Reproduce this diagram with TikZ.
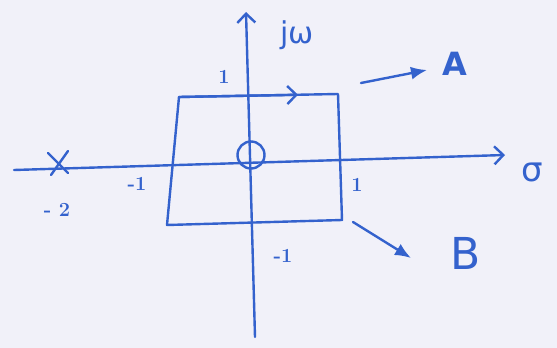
\documentclass[tikz,border=0pt]{standalone}
\usepackage{fontspec}
\newfontfamily\greekfont{DejaVu Sans}
\usetikzlibrary{arrows.meta,calc}
\definecolor{pen}{RGB}{52,98,205}
\definecolor{paper}{RGB}{241,241,249}
\begin{document}
\begin{tikzpicture}[x=1pt,y=-1pt,
  ink/.style={draw=pen,line width=2.4pt,line cap=round,line join=round},
  lbl/.style={text=pen,inner sep=0pt},
  axisarrow/.style={-{Straight Barb[length=9pt,width=18pt,line width=2.4pt]}},
  bigarrow/.style={-{Latex[length=16pt,width=13pt]}}]
\fill[paper] (0,0) rectangle (557,348);
\useasboundingbox (0,0) rectangle (557,348);
% axes
\coordinate (xl) at (14,170);
\coordinate (xr) at (505,155);
\coordinate (yb) at (255,337);
\coordinate (yt) at (246,12);
\draw[ink,axisarrow] (xl) -- (xr);
\draw[ink,axisarrow] (yb) -- (yt);
% origin circle
\node[ink,circle,minimum size=27pt,inner sep=0pt] (o) at (251,155) {};
% rectangle
\coordinate (tl) at (179,97);
\coordinate (tr) at (338,94);
\coordinate (br) at (342,220);
\coordinate (bl) at (167,225);
\coordinate (tm) at (298,94.8);
\draw[ink] (tl) -- (tr) -- (br) -- (bl) -- cycle;
\draw[ink,axisarrow] (tl) -- (tm);
% pole cross
\coordinate (p) at (58,163);
\draw[ink] ($(p)+(-10,-10)$) -- ($(p)+(10,10)$);
\draw[ink] ($(p)+(10,-12)$) -- ($(p)+(-7,12)$);
% labels
\node[lbl,font=\greekfont\fontsize{30}{30}\selectfont] (jw) at (297,35) {jω};
\node[lbl,font=\greekfont\fontsize{34}{34}\selectfont] (sg) at (532,172) {σ};
\node[lbl,font=\fontsize{20}{20}\selectfont\bfseries] (one) at (224,77) {1};
\node[lbl,font=\fontsize{20}{20}\selectfont\bfseries] (m1l) at (137,184) {-1};
\node[lbl,font=\fontsize{20}{20}\selectfont\bfseries] (m2) at (57,210) {- 2};
\node[lbl,font=\fontsize{20}{20}\selectfont\bfseries] (onr) at (357,185) {1};
\node[lbl,font=\fontsize{20}{20}\selectfont\bfseries] (m1b) at (283,256) {-1};
\node[lbl,font=\greekfont\bfseries\fontsize{32}{32}\selectfont] (A) at (455,64) {A};
\node[lbl,font=\greekfont\fontsize{44}{44}\selectfont] (B) at (466,253) {B};
% arrows to A and B
\coordinate (as) at (361,83);
\coordinate (bs) at (353,222);
\draw[ink,bigarrow] (as) -- (427,70);
\draw[ink,bigarrow] (bs) -- (411,258);
\end{tikzpicture}
\end{document}
